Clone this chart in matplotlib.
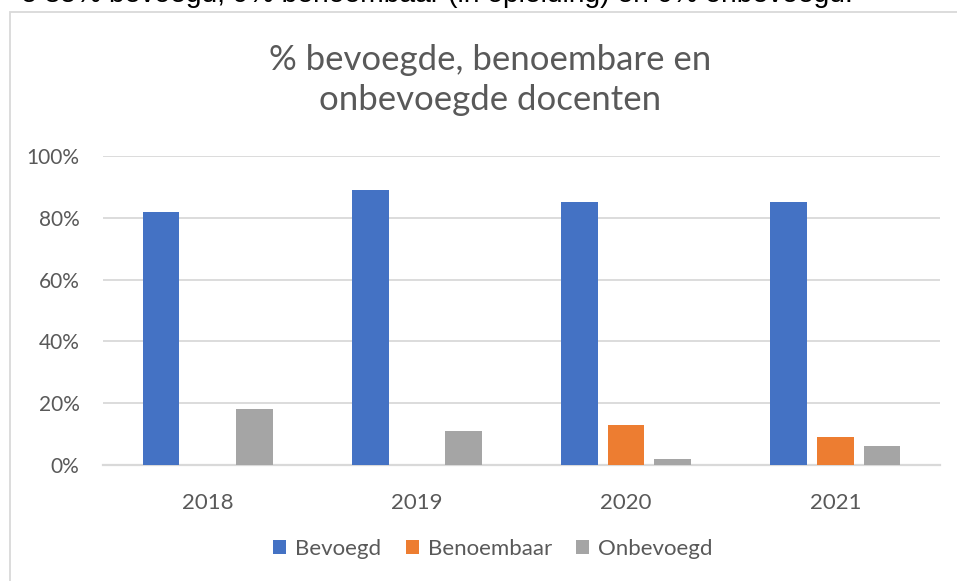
import numpy as np
import matplotlib.pyplot as plt
from matplotlib.patches import Rectangle

plt.rcParams['font.family'] = ['Lato', 'DejaVu Sans']

years = ['2018', '2019', '2020', '2021']
bevoegd = [82, 89, 85, 85]
benoembaar = [0, 0, 13, 9]
onbevoegd = [18, 11, 2, 6]
series_names = ['Bevoegd', 'Benoembaar', 'Onbevoegd']
colors = ['#4472C4', '#ED7D31', '#A5A5A5']

W, H = 957, 581
fig = plt.figure(figsize=(W / 100, H / 100), dpi=100)

# cut-off sentence above the chart (only its lower half is in the picture)
fig.text(853 / W, 1 - 1.5 / H, 'e 85% bevoegd, 9% benoembaar (in opleiding) en 6% onbevoegd.',
         ha='right', va='baseline', fontsize=20.3, family='Liberation Sans', color='black')

# chart frame
fig.patches.append(Rectangle((10 / W, -0.1), 1.2, 1 - 12 / H + 0.1, transform=fig.transFigure,
                             fill=False, edgecolor='#D9D9D9', linewidth=1.3))

ax = fig.add_axes([103 / W, 1 - 465 / H, 837 / W, 309 / H])
x = np.arange(len(years))
w = 0.175
step = 0.223
for i, vals in enumerate([bevoegd, benoembaar, onbevoegd]):
    ax.bar(x + (i - 1) * step, vals, width=w, color=colors[i], label=series_names[i], zorder=3)

ax.set_xlim(-0.5, len(years) - 0.5)
ax.set_ylim(0, 100)
ax.set_yticks(range(0, 101, 20))
ax.set_yticklabels([f'{v}%' for v in range(0, 101, 20)])
ax.set_xticks(x)
ax.set_xticklabels(years)
ax.tick_params(axis='both', length=0, labelsize=16, labelcolor='#595959')
ax.tick_params(axis='y', labelsize=15, pad=17)
ax.tick_params(axis='x', pad=20)
ax.grid(axis='y', color='#D9D9D9', linewidth=1.3, zorder=0)
for s in ['top', 'right', 'left']:
    ax.spines[s].set_visible(False)
ax.spines['bottom'].set_color('#D9D9D9')
ax.spines['bottom'].set_linewidth(1.6)

fig.text(490 / W, 1 - 80 / H, '% bevoegde, benoembare en\nonbevoegde docenten',
         ha='center', va='center', fontsize=25, color='#595959', linespacing=1.3)

fig.legend(loc='center', bbox_to_anchor=(493 / W, 1 - 549 / H), ncol=3, frameon=False,
           fontsize=16, labelcolor='#595959', handlelength=0.58, handleheight=0.58,
           handletextpad=0.4, columnspacing=1.1)

fig.savefig('out.png', dpi=100)
